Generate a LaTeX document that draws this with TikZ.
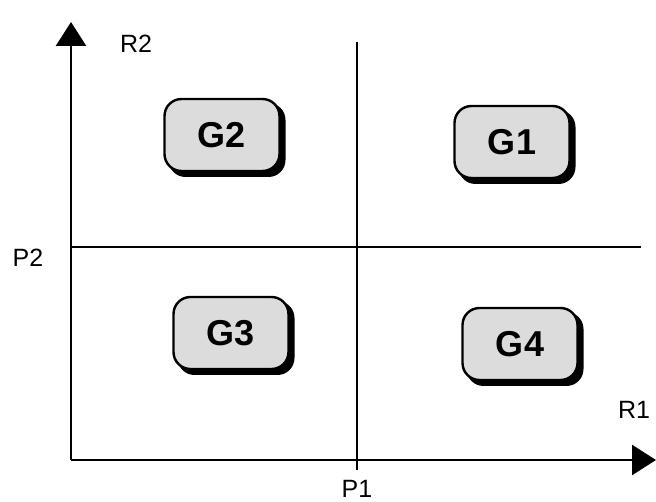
\documentclass[tikz,border=0pt]{standalone}
\usepackage{fontspec}
\setmainfont{Liberation Sans}
\usetikzlibrary{arrows.meta}
\begin{document}
\begin{tikzpicture}[x=1pt,y=-1pt,
  gbox/.style={draw=black,line width=2.4pt,fill={rgb,255:red,220;green,220;blue,220},rounded corners=17pt,minimum width=115pt,minimum height=72pt,font=\bfseries\fontsize{36}{40}\selectfont,inner sep=0pt},
  shadowbox/.style={fill=black,rounded corners=17pt,minimum width=117pt,minimum height=74pt,inner sep=0pt},
  axis/.style={line width=2.6pt,-{Triangle[length=24pt,width=30pt]}},
  quad/.style={line width=2pt},
  lab/.style={font=\fontsize{25}{28}\selectfont,inner sep=0pt}]
\useasboundingbox (0,0) rectangle (656,502);
% axes
\coordinate (o) at (71,460);
\coordinate (ytip) at (71,22);
\coordinate (xtip) at (656,460);
\draw[axis] (o) -- (ytip);
\draw[axis] (o) -- (xtip);
% quadrant lines
\coordinate (vtop) at (357,42);
\coordinate (vbot) at (357,470);
\coordinate (hl) at (71,247);
\coordinate (hr) at (641,247);
\draw[quad] (vtop) -- (vbot);
\draw[quad] (hl) -- (hr);
% labels
\node[lab] (r2) at (136,44) {R2};
\node[lab] (p2) at (28,258) {P2};
\node[lab] (r1) at (634,410) {R1};
\node[lab,anchor=base] (p1) at (357,497) {P1};
% boxes with shadows
\node[shadowbox] (s2) at (227,140) {};
\node[gbox] (g2) at (222,135) {G2};
\node[shadowbox] (s1) at (517,147) {};
\node[gbox] (g1) at (512,142) {G1};
\node[shadowbox] (s3) at (236,338) {};
\node[gbox] (g3) at (231,333) {G3};
\node[shadowbox] (s4) at (525,349) {};
\node[gbox] (g4) at (520,344) {G4};
\end{tikzpicture}
\end{document}
